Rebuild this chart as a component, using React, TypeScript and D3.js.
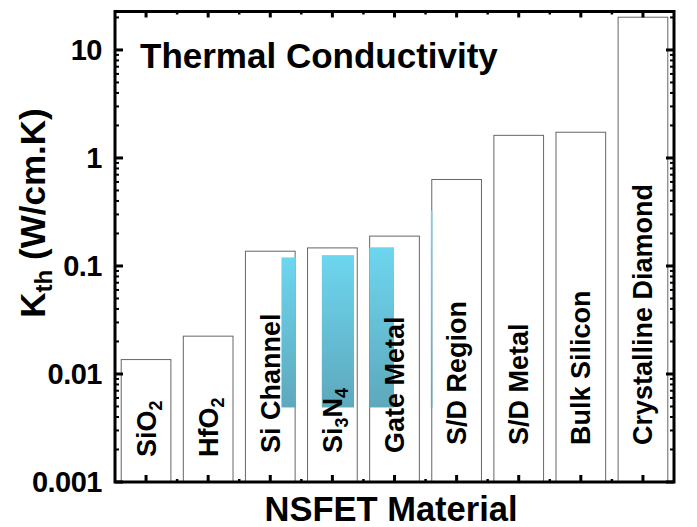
import React from 'react';
import { scaleBand, scaleLinear, scaleLog, range } from 'd3';

// bar categories and thermal conductivity values (W/cm.K)
const categories = ['SiO2', 'HfO2', 'Si Channel', 'Si3N4', 'Gate Metal', 'S/D Region', 'S/D Metal', 'Bulk Silicon', 'Crystalline Diamond'];
const kValues = [0.0136, 0.0224, 0.137, 0.147, 0.189, 0.632, 1.62, 1.73, 20.1];

// cyan floating bars, x in category units, y in W/cm.K
const cyanX0 = [2.18, 2.83, 3.594, 4.585];
const cyanX1 = [2.41, 3.348, 3.992, 4.61];
const cyanLow = [0.0049, 0.0049, 0.0049, 0.0049];
const cyanHigh = [0.12, 0.126, 0.149, 0.326];

const yTicks = [0.001, 0.01, 0.1, 1, 10];
const yTickLabels = ['0.001', '0.01', '0.1', '1', '10'];

const W = 697;
const H = 527;
const M = { left: 115, right: 674, top: 11.5, bottom: 482 };
const FONT = "'Liberation Sans', Arial, Helvetica, sans-serif";

// split "SiO2" style names into normal / subscript parts
function labelParts(name: string) {
    const parts: { t: string; sub: boolean }[] = [];
    const re = /(\d+)|([^\d]+)/g;
    let m;
    while ((m = re.exec(name))) {
        parts.push({ t: m[0], sub: !!m[1] });
    }
    return parts;
}

export default function App() {
    const x = scaleBand<string>()
        .domain(categories)
        .range([M.left, M.right])
        .paddingInner(0.2)
        .paddingOuter(0.1);

    const xu = scaleLinear().domain([-0.5, categories.length - 0.5]).range([M.left, M.right]);

    const y = scaleLog().domain([0.001, 22.7]).range([M.bottom, M.top]);

    const minorY: number[] = [];
    for (let e = -3; e <= 1; e++) {
        for (let k = 2; k <= 9; k++) {
            const v = k * Math.pow(10, e);
            if (v < 22.7) minorY.push(v);
        }
    }
    const majorX = range(categories.length);
    const minorX = range(categories.length - 1).map((i) => i + 0.5);

    return (
        <div style={{ position: 'absolute', left: 0, top: 0 }}>
            <svg width={W} height={H} style={{ display: 'block' }} fontFamily={FONT}>
                <defs>
                    <linearGradient id="cyanGrad" x1="0" y1="0" x2="0" y2="1">
                        <stop offset="0%" stopColor="#6dd6ef" />
                        <stop offset="100%" stopColor="#5ea8bc" />
                    </linearGradient>
                </defs>
                <rect width={W} height={H} fill="#fff" />

                {/* white bars */}
                {categories.map((c, i) => (
                    <rect
                        key={c}
                        x={x(c)}
                        y={y(kValues[i])}
                        width={x.bandwidth()}
                        height={y(0.001) - y(kValues[i])}
                        fill="#fff"
                        stroke="#666"
                        strokeWidth={1}
                    />
                ))}

                {/* cyan range bars */}
                {cyanX0.map((x0, i) => (
                    <rect
                        key={`c-${i}`}
                        x={xu(x0)}
                        y={y(cyanHigh[i])}
                        width={xu(cyanX1[i]) - xu(x0)}
                        height={y(cyanLow[i]) - y(cyanHigh[i])}
                        fill="url(#cyanGrad)"
                    />
                ))}

                {/* bar labels */}
                {categories.map((c, i) => {
                    const cx = (x(c) as number) + x.bandwidth() / 2 + 9.5;
                    const ly = i < 2 ? 457 : i < 5 ? 453 : 445;
                    const parts = labelParts(c);
                    return (
                        <text
                            key={`l-${c}`}
                            transform={`translate(${cx},${ly}) rotate(-90)`}
                            fontSize={27}
                            fontWeight="bold"
                            fill="#000"
                        >
                            {parts.map((p, j) =>
                                p.sub ? (
                                    <tspan key={j} fontSize={18} dy={6}>{p.t}</tspan>
                                ) : (
                                    <tspan key={j} dy={j > 0 && parts[j - 1].sub ? -6 : 0}>{p.t}</tspan>
                                ),
                            )}
                        </text>
                    );
                })}

                {/* left / right ticks */}
                {yTicks.map((v) => (
                    <g key={`yt-${v}`}>
                        <line x1={M.left} x2={M.left + 8} y1={y(v)} y2={y(v)} stroke="#000" strokeWidth={3} />
                        <line x1={M.right} x2={M.right - 8} y1={y(v)} y2={y(v)} stroke="#000" strokeWidth={3} />
                    </g>
                ))}
                {minorY.map((v) => (
                    <g key={`ym-${v}`}>
                        <line x1={M.left} x2={M.left + 4} y1={y(v)} y2={y(v)} stroke="#000" strokeWidth={2} />
                        <line x1={M.right} x2={M.right - 4} y1={y(v)} y2={y(v)} stroke="#000" strokeWidth={2} />
                    </g>
                ))}

                {/* top / bottom ticks */}
                {majorX.map((i) => (
                    <g key={`xt-${i}`}>
                        <line x1={xu(i)} x2={xu(i)} y1={M.bottom} y2={M.bottom - 7} stroke="#000" strokeWidth={3} />
                        <line x1={xu(i)} x2={xu(i)} y1={M.top} y2={M.top + 6} stroke="#000" strokeWidth={3} />
                    </g>
                ))}
                {minorX.map((i) => (
                    <g key={`xm-${i}`}>
                        <line x1={xu(i)} x2={xu(i)} y1={M.bottom} y2={M.bottom - 3} stroke="#000" strokeWidth={2.5} />
                        <line x1={xu(i)} x2={xu(i)} y1={M.top} y2={M.top + 3} stroke="#000" strokeWidth={2.5} />
                    </g>
                ))}

                {/* frame */}
                <rect
                    x={M.left}
                    y={M.top}
                    width={M.right - M.left}
                    height={M.bottom - M.top}
                    fill="none"
                    stroke="#000"
                    strokeWidth={3}
                />

                {/* y tick labels */}
                {yTicks.map((v, i) => (
                    <text
                        key={`yl-${v}`}
                        x={102}
                        y={y(v)}
                        dy="0.36em"
                        textAnchor="end"
                        fontSize={29}
                        fontWeight="bold"
                        letterSpacing={-0.5}
                    >
                        {yTickLabels[i]}
                    </text>
                ))}

                {/* title */}
                <text x={140} y={68} fontSize={35} fontWeight="bold">Thermal Conductivity</text>

                {/* axis titles */}
                <text x={391} y={521} textAnchor="middle" fontSize={34.5} fontWeight="bold">NSFET Material</text>
                <text transform="translate(45,213) rotate(-90)" textAnchor="middle" fontSize={35} fontWeight="bold">
                    K<tspan fontSize={24} dy={7}>th</tspan>
                    <tspan dy={-7}> (W/cm.K)</tspan>
                </text>
            </svg>
        </div>
    );
}
